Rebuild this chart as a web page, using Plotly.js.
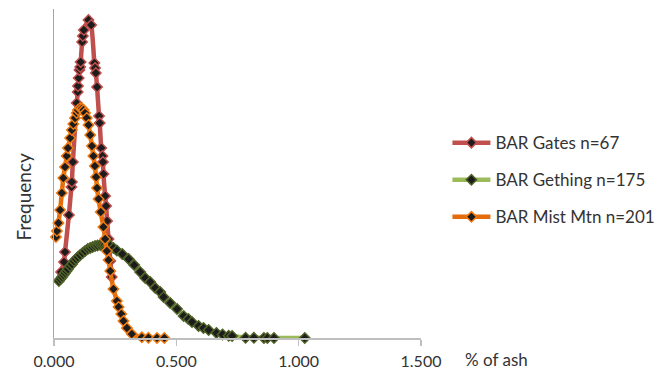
<!DOCTYPE html>
<html>
<head>
<meta charset="utf-8">
<script src="https://cdn.plot.ly/plotly-3.0.1.min.js"></script>
<style>html,body{margin:0;padding:0;background:#fff;}#chart{width:672px;height:375px;}</style>
</head>
<body>
<div id="chart"></div>
<script>
// Series names
var seriesNames = ["BAR Gates n=67", "BAR Gething n=175", "BAR Mist Mtn n=201"];

// BAR Gates (arbitrary frequency units)
var gatesX = [0.029,0.041,0.045,0.061,0.071,0.073,0.077,0.093,0.097,0.098,0.101,0.104,0.107,0.109,0.115,0.118,0.122,0.141,0.152,0.165,0.168,0.171,0.176,0.184,0.187,0.193,0.198,0.200,0.202,0.209,0.213,0.217,0.223,0.230,0.236];
var gatesY = [0.66,0.76,0.86,1.23,1.51,1.56,1.76,2.35,2.46,2.52,2.60,2.68,2.71,2.76,2.96,3.02,3.08,3.18,3.13,2.75,2.70,2.65,2.51,2.22,2.15,1.90,1.82,1.76,1.64,1.42,1.32,1.17,0.99,0.77,0.61];

// BAR Gething
var gethingX = [0.020,0.026,0.033,0.039,0.045,0.051,0.057,0.066,0.074,0.082,0.090,0.098,0.107,0.117,0.127,0.138,0.148,0.158,0.168,0.178,0.189,0.199,0.209,0.220,0.230,0.243,0.257,0.279,0.305,0.328,0.352,0.373,0.393,0.414,0.434,0.448,0.475,0.503,0.530,0.549,0.564,0.591,0.611,0.632,0.664,0.689,0.714,0.728,0.783,0.817,0.858,0.872,0.899,1.025];
var gethingY = [0.57,0.59,0.61,0.63,0.65,0.67,0.69,0.72,0.74,0.77,0.79,0.81,0.83,0.85,0.87,0.89,0.90,0.91,0.92,0.925,0.93,0.93,0.93,0.925,0.92,0.90,0.875,0.84,0.79,0.73,0.66,0.60,0.56,0.50,0.46,0.41,0.35,0.29,0.22,0.19,0.16,0.12,0.10,0.08,0.05,0.035,0.023,0.02,0.003,0.002,0.001,0.001,0.001,0.0005];

// BAR Mist Mtn
var mistX = [0.008,0.012,0.018,0.025,0.032,0.038,0.045,0.052,0.057,0.066,0.073,0.079,0.086,0.093,0.098,0.107,0.115,0.121,0.127,0.134,0.141,0.148,0.155,0.161,0.167,0.172,0.176,0.182,0.191,0.202,0.209,0.216,0.223,0.230,0.243,0.257,0.264,0.275,0.284,0.298,0.318,0.359,0.386,0.421,0.451];
var mistY = [1.01,1.07,1.15,1.28,1.45,1.60,1.71,1.82,1.90,2.00,2.08,2.14,2.20,2.25,2.28,2.30,2.295,2.28,2.25,2.20,2.13,2.03,1.92,1.82,1.72,1.61,1.50,1.39,1.26,1.11,0.99,0.87,0.78,0.67,0.49,0.37,0.31,0.24,0.17,0.10,0.04,0.007,0.003,0.001,0.0005];

// Axis ticks
var xTickVals = [0, 0.5, 1.0, 1.5];
var xTickText = ["0.000", "0.500", "1.000", "1.500"];

var FONT = "Lato, 'Noto Sans', sans-serif";

function mk(name, xs, ys, lineColor, mkLine, group) {
  return {
    type: "scatter", mode: "lines+markers", name: name, x: xs, y: ys,
    legendgroup: group, cliponaxis: false,
    line: {color: lineColor, width: 4.5, shape: "spline", smoothing: 0.6},
    marker: {symbol: "diamond", size: 8, color: "#1c1c1c", line: {color: mkLine, width: 1.5}}
  };
}

var traces = [
  mk(seriesNames[0], gatesX, gatesY, "#C0504D", "#C0504D", "g1"),
  mk(seriesNames[1], gethingX, gethingY, "#9BBB59", "#4F6228", "g2"),
  mk(seriesNames[2], mistX, mistY, "#E46C0A", "#F07A10", "g3")
];

var layout = {
  width: 672, height: 375,
  margin: {l: 54, r: 251, t: 9, b: 37},
  paper_bgcolor: "#ffffff", plot_bgcolor: "#ffffff",
  font: {family: FONT, color: "#333333"},
  showlegend: true,
  legend: {
    x: 1.072, xanchor: "left", y: 0.48, yanchor: "middle",
    font: {family: FONT, size: 17, color: "#333333"},
    tracegroupgap: 12, traceorder: "grouped", itemwidth: 38, bgcolor: "rgba(0,0,0,0)"
  },
  xaxis: {
    range: [0, 1.5], tickvals: xTickVals, ticktext: xTickText,
    showgrid: false, zeroline: false, showline: true, linecolor: "#BFBFBF", linewidth: 1.5,
    ticks: "outside", ticklen: 6, tickcolor: "#BFBFBF", tickwidth: 1.5,
    tickfont: {family: FONT, size: 16, color: "#333333"}, ticklabelstandoff: 2, fixedrange: true
  },
  yaxis: {
    range: [0, 3.29], showgrid: false, zeroline: false, showline: true,
    linecolor: "#A6A6A6", linewidth: 1.5, ticks: "", showticklabels: false, fixedrange: true
  },
  annotations: [
    {text: "% of ash", xref: "paper", yref: "paper", x: 1.114, y: -0.066, xanchor: "left", yanchor: "middle",
     showarrow: false, font: {family: FONT, size: 17, color: "#333333"}},
    {text: "Frequency", xref: "paper", yref: "paper", x: -0.082, y: 0.43, xanchor: "center", yanchor: "middle",
     textangle: -90, showarrow: false, font: {family: FONT, size: 19, color: "#333333"}}
  ]
};

Plotly.newPlot("chart", traces, layout, {displayModeBar: false, staticPlot: true});
</script>
</body>
</html>
